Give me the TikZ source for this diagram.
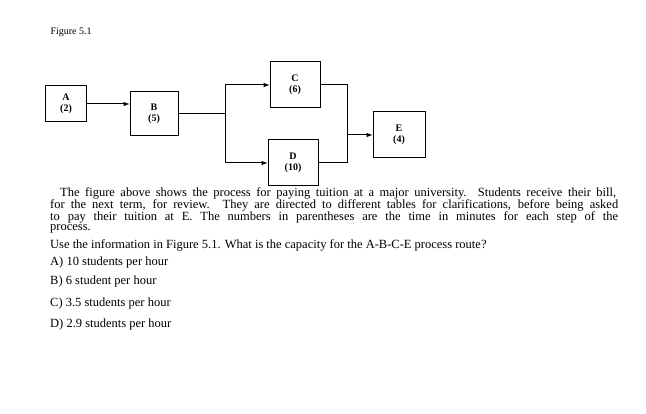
\documentclass[tikz,border=0pt]{standalone}
\usepackage{fontspec}
\setmainfont{Liberation Serif}
\begin{document}
\begin{tikzpicture}[x=1pt,y=-1pt,
  box/.style={draw,line width=1pt,align=center,font=\fontsize{10}{11}\selectfont\bfseries,inner sep=0pt},
  ln/.style={line width=1pt},
  arr/.style={ln,-latex},
  tx/.style={anchor=west,inner sep=0pt,font=\fontsize{12.5}{13}\selectfont}]
\useasboundingbox (0,0) rectangle (646,414);
\node[anchor=west,font=\fontsize{10}{11}\selectfont] (fig) at (47,32) {Figure 5.1};
\node[box,minimum width=41,minimum height=36] (A) at (66,104) {A\\(2)};
\node[box,minimum width=48,minimum height=44] (B) at (154,114) {B\\(5)};
\node[box,minimum width=50,minimum height=46] (C) at (295,85) {C\\(6)};
\node[box,minimum width=50,minimum height=46] (D) at (293,163) {D\\(10)};
\node[box,minimum width=52,minimum height=46] (E) at (399,135) {E\\(4)};
\draw[arr] (A.east) -- (B.west |- A.east);
\coordinate (j1) at (225,114);
\draw[ln] (B.east) -- (j1);
\draw[arr] (j1) |- (C.west);
\draw[arr] (j1) |- (D.west);
\coordinate (j2) at (347,135);
\draw[ln] (C.east) -| (j2);
\draw[ln] (D.east) -| (j2);
\draw[arr] (j2) -- (E.west);
\node[tx] (t1) at (60,193) {\makebox[556pt][s]{The figure above shows the process for paying tuition at a major university. Students receive their bill,}};
\node[tx] (t2) at (50,205) {\makebox[568pt][s]{for the next term, for review. They are directed to different tables for clarifications, before being asked}};
\node[tx] (t3) at (50,217) {\makebox[568pt][s]{to pay their tuition at E. The numbers in parentheses are the time in minutes for each step of the}};
\node[tx] (t4) at (50,229) {process.};
\node[tx] (t5) at (50,245) {Use the information in Figure 5.1. What is the capacity for the A-B-C-E process route?};
\node[tx] (t6) at (50,262) {A) 10 students per hour};
\node[tx] (t7) at (50,281) {B) 6 student per hour};
\node[tx] (t8) at (50,303) {C) 3.5 students per hour};
\node[tx] (t9) at (50,324) {D) 2.9 students per hour};
\end{tikzpicture}
\end{document}
